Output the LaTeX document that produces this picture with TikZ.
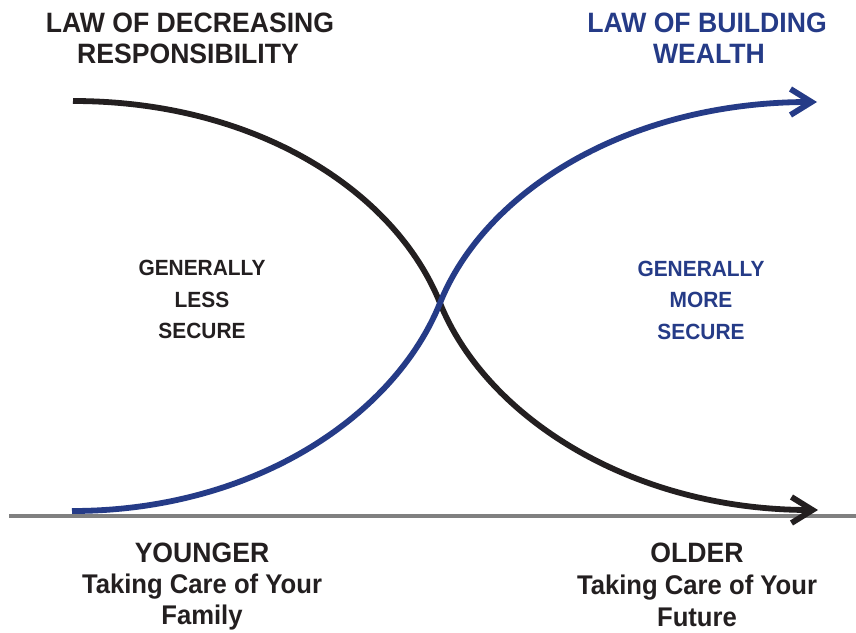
\documentclass[tikz,border=0pt]{standalone}
\usepackage{fontspec}
\setmainfont{Liberation Sans}[FakeStretch=0.95]
\usetikzlibrary{arrows.meta}
\definecolor{navy}{RGB}{37,59,135}
\definecolor{ink}{RGB}{35,31,32}
\definecolor{rulegray}{RGB}{128,128,128}
\begin{document}
\begin{tikzpicture}[x=1pt,y=-1pt,
  curve/.style={line width=5.8pt},
  tiparrow/.style={-{Straight Barb[length=21pt,width=26pt,line join=miter,line cap=butt]}},
  big/.style={font=\bfseries\fontsize{28}{32}\selectfont, anchor=base, inner sep=0pt},
  bigl/.style={font=\bfseries\fontsize{27}{32}\selectfont, anchor=base, inner sep=0pt},
  mid/.style={font=\bfseries\fontsize{22}{32}\selectfont, anchor=base, inner sep=0pt}]
\useasboundingbox (0,0) rectangle (856,632);
\fill[white] (0,0) rectangle (856,632);
% axis
\coordinate (axL) at (9,516);
\coordinate (axR) at (856,516);
\draw[rulegray, line width=3.2pt] (axL) -- (axR);
% curves
\coordinate (bS) at (73,101);
\coordinate (X) at (440,303);
\coordinate (bE) at (818,510);
\coordinate (uS) at (72,511);
\coordinate (uE) at (817,102);
\draw[curve, ink, tiparrow] (bS) .. controls (256,101) and (395,191) .. (X)
  .. controls (485,415) and (629,510) .. (bE);
\draw[curve, navy, tiparrow] (uS) .. controls (255,511) and (395,415) .. (X)
  .. controls (485,191) and (628,102) .. (uE);
% titles
\node[big, ink] (t1a) at (190,32) {LAW OF DECREASING};
\node[big, ink] (t1b) at (188,63) {RESPONSIBILITY};
\node[big, navy] (t2a) at (707,32) {LAW OF BUILDING};
\node[big, navy] (t2b) at (709,63) {WEALTH};
% middle
\node[mid, ink] (m1a) at (202,275) {GENERALLY};
\node[mid, ink] (m1b) at (202,307) {LESS};
\node[mid, ink] (m1c) at (202,338) {SECURE};
\node[mid, navy] (m2a) at (701,276) {GENERALLY};
\node[mid, navy] (m2b) at (701,307) {MORE};
\node[mid, navy] (m2c) at (701,339) {SECURE};
% bottom
\node[big, ink] (b1a) at (202,562) {YOUNGER};
\node[bigl, ink] (b1b) at (202,593) {Taking Care of Your};
\node[bigl, ink] (b1c) at (202,624) {Family};
\node[big, ink] (b2a) at (697,562) {OLDER};
\node[bigl, ink] (b2b) at (697,594) {Taking Care of Your};
\node[bigl, ink] (b2c) at (697,626) {Future};
\end{tikzpicture}
\end{document}
